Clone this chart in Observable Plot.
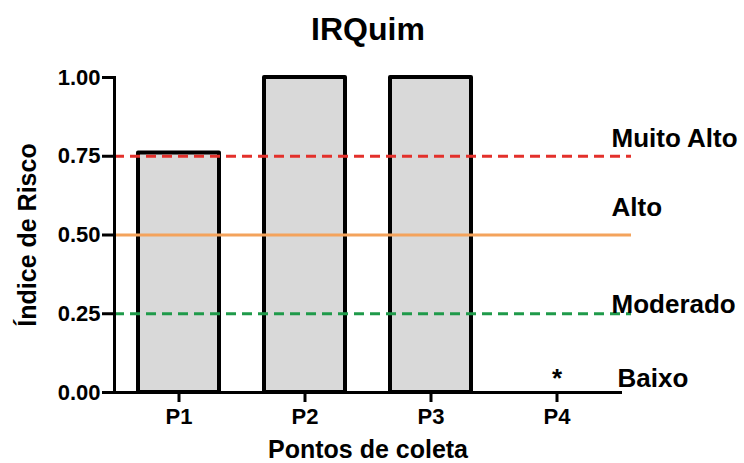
<!DOCTYPE html>
<html><head><meta charset="utf-8">
<script src="https://cdn.jsdelivr.net/npm/d3@7"></script>
<script src="https://cdn.jsdelivr.net/npm/@observablehq/plot@0.6"></script>
<style>
body{margin:0;background:#fff}
svg{font-family:"Liberation Sans",Arial,sans-serif}
</style>
</head><body><div id="chart"></div>
<script>
const points = ["P1", "P2", "P3", "P4"];
const values = [0.76, 1.00, 1.00, 0.00];
const yTicks = [0, 0.25, 0.5, 0.75, 1];
const classLabels = ["Muito Alto", "Alto", "Moderado", "Baixo"];
const classLabelY = [0.806, 0.586, 0.278, 0.044];
const thresholdHigh = 0.75, thresholdMid = 0.5, thresholdLow = 0.25;

const data = points.map((p, i) => ({p, v: values[i]}));
const labels = classLabels.map((t, i) => ({t, y: classLabelY[i]}));
const zeros = data.filter(d => d.v === 0);

const chart = Plot.plot({
  width: 744, height: 463,
  marginLeft: 114, marginRight: 113, marginTop: 77, marginBottom: 71,
  style: {fontFamily: "'Liberation Sans', Arial, sans-serif", color: "#000", background: "#fff"},
  x: {domain: points, range: [114, 620], paddingInner: 0.36, paddingOuter: 0.18},
  y: {domain: [0, 1]},
  marks: [
    Plot.barY(data.filter(d => d.v > 0), {x: "p", y: "v", fill: "#d9d9d9", stroke: "#000", strokeWidth: 4, strokeLinejoin: "round"}),
    Plot.ruleY([thresholdHigh], {stroke: "#e3302b", strokeWidth: 3, strokeDasharray: "10,6"}),
    Plot.ruleY([thresholdMid], {stroke: "#f4a35c", strokeWidth: 3}),
    Plot.ruleY([thresholdLow], {stroke: "#1f9a4a", strokeWidth: 3, strokeDasharray: "10,6"}),
    Plot.ruleY([0], {stroke: "#000", strokeWidth: 3, insetRight: 9}),
    Plot.frame({anchor: "left", stroke: "#000", strokeWidth: 3}),
    Plot.axisY({ticks: yTicks, tickFormat: d3.format(".2f"), tickSize: 12, tickPadding: 2, fontSize: 22, fontWeight: "bold", strokeWidth: 3, label: null}),
    Plot.axisX({tickSize: 10, tickPadding: 6, fontSize: 22, fontWeight: "bold", strokeWidth: 3, label: null}),
    Plot.text(zeros, {x: "p", y: "v", text: () => "*", fontSize: 26, fontWeight: "bold", dy: -14}),
    Plot.text(labels.filter(d => d.t !== "Baixo"), {y: "y", text: "t", frameAnchor: "right", textAnchor: "start", dx: -20, fontSize: 26, fontWeight: "bold"}),
    Plot.text(labels.filter(d => d.t === "Baixo"), {y: "y", text: "t", frameAnchor: "right", textAnchor: "start", dx: -14, fontSize: 26, fontWeight: "bold"}),
    Plot.text(["IRQuim"], {frameAnchor: "top", textAnchor: "middle", lineAnchor: "middle", dy: -48, dx: -5, fontSize: 32, fontWeight: "bold"}),
    Plot.text(["Índice de Risco"], {frameAnchor: "left", textAnchor: "middle", lineAnchor: "middle", rotate: -90, dx: -87, fontSize: 25, fontWeight: "bold"}),
    Plot.text(["Pontos de coleta"], {frameAnchor: "bottom", textAnchor: "middle", lineAnchor: "middle", dy: 57, dx: -5, fontSize: 25, fontWeight: "bold"})
  ]
});
document.getElementById("chart").appendChild(chart);
</script>
</body></html>
